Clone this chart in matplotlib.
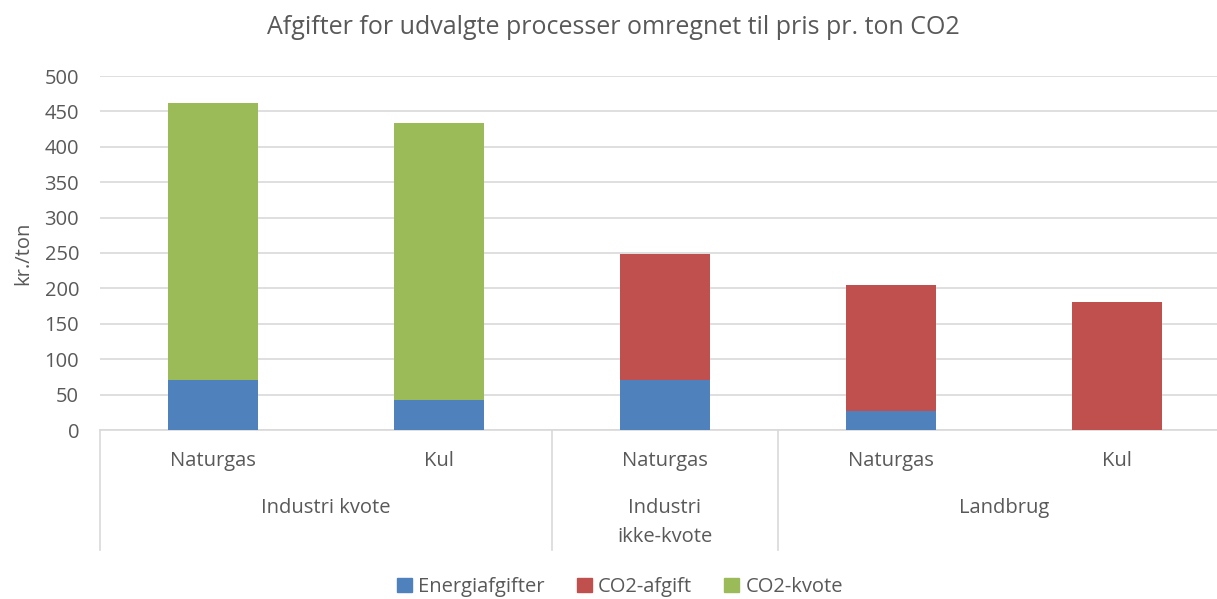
import matplotlib
matplotlib.use("Agg")
import matplotlib.pyplot as plt
from matplotlib.patches import Patch

categories = ["Naturgas", "Kul", "Naturgas", "Naturgas", "Kul"]
groups = ["Industri kvote", "Industri\nikke-kvote", "Landbrug"]
group_spans = [(0, 1), (2, 2), (3, 4)]
energiafgifter = [70, 43, 70, 27, 0]
co2_afgift = [0, 0, 179, 178, 181]
co2_kvote = [392, 391, 0, 0, 0]
yticks = [0, 50, 100, 150, 200, 250, 300, 350, 400, 450, 500]

plt.rcParams['font.family'] = ['Open Sans', 'DejaVu Sans']
txt = '#595959'
blue, red, green = '#4F81BD', '#C0504D', '#9BBB59'
fs = 14.5

fig = plt.figure(figsize=(12.17, 5.99), dpi=100)
# the plot area runs a little past the right edge of the picture, as in the original
ax = fig.add_axes([100 / 1217, 1 - 430 / 599, 1130 / 1217, 354 / 599])

x = list(range(len(categories)))
bottom2 = [a + b for a, b in zip(energiafgifter, co2_afgift)]
ax.bar(x, energiafgifter, width=0.4, color=blue, zorder=3)
ax.bar(x, co2_afgift, width=0.4, bottom=energiafgifter, color=red, zorder=3)
ax.bar(x, co2_kvote, width=0.4, bottom=bottom2, color=green, zorder=3)

ax.set_xlim(-0.5, 4.5)
ax.set_ylim(0, 500)
ax.set_yticks(yticks)
ax.tick_params(axis='y', length=0, labelsize=fs, labelcolor=txt, pad=15)
ax.tick_params(axis='x', length=0, labelbottom=False)
ax.grid(axis='y', color='#D9D9D9', linewidth=1.2, zorder=0)
for s in ['top', 'right', 'left']:
    ax.spines[s].set_visible(False)
ax.spines['bottom'].set_color('#D9D9D9')
ax.spines['bottom'].set_linewidth(1.2)

# category labels and group labels below the axis
trans = ax.get_xaxis_transform()
for xi, c in zip(x, categories):
    ax.text(xi, -31 / 354, c, transform=trans, ha='center', va='center',
            fontsize=fs, color=txt)
for g, (a, b) in zip(groups, group_spans):
    ax.text((a + b) / 2, -68 / 354, g, transform=trans, ha='center', va='top',
            fontsize=fs, color=txt, linespacing=1.62)
for sep in [-0.5, 1.5, 2.5]:
    ax.plot([sep, sep], [0, -120 / 354], transform=trans, color='#D9D9D9',
            linewidth=1.2, clip_on=False)

ax.set_ylabel("kr./ton", fontsize=fs, color=txt, labelpad=8)
fig.text(613 / 1217, 1 - 28 / 599, "Afgifter for udvalgte processer omregnet til pris pr. ton CO2",
         ha='center', va='center', fontsize=18, color=txt)

handles = [Patch(color=blue, label='Energiafgifter'),
           Patch(color=red, label='CO2-afgift'),
           Patch(color=green, label='CO2-kvote')]
fig.legend(handles=handles, loc='center', bbox_to_anchor=(620 / 1217, 1 - 587 / 599),
           ncol=3, frameon=False, fontsize=fs, labelcolor=txt,
           handlelength=0.75, handleheight=0.75, handletextpad=0.3, columnspacing=1.6)

fig.savefig("out.png", dpi=100)
